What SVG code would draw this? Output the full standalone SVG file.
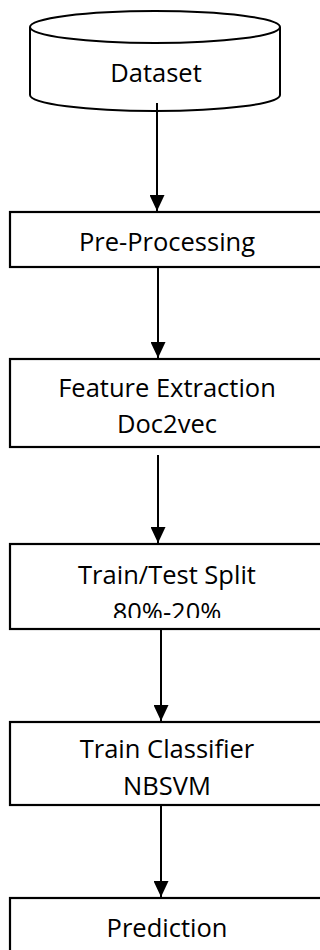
<svg xmlns="http://www.w3.org/2000/svg" width="320" height="950" viewBox="0 0 320 950">
<style>
.box{fill:#fff;stroke:#000;stroke-width:2.2}
.cyl{fill:#fff;stroke:#000;stroke-width:2}
.lbl{font-family:"Open Sans","Noto Sans",sans-serif;font-size:25.5px;fill:#000;text-anchor:middle}
.conn{stroke:#000;stroke-width:2;fill:none}
</style>
<defs>
<marker id="arr" viewBox="0 0 16 15" refX="16" refY="7.5" markerWidth="16" markerHeight="15" markerUnits="userSpaceOnUse" orient="auto">
<path d="M0,0 L16,7.5 L0,15 Z" fill="#000"/>
</marker>
<clipPath id="clipTT"><rect x="0" y="540" width="320" height="78"/></clipPath>
</defs>
<rect width="320" height="950" fill="#fff"/>
<g id="dataset">
<path class="cyl" d="M30,27 L30,95 A125,16 0 0 0 280,95 L280,27"/>
<ellipse class="cyl" cx="155" cy="27" rx="125" ry="16"/>
<text class="lbl" x="156" y="82">Dataset</text>
</g>
<g id="preprocessing">
<rect class="box" x="10" y="212" width="314" height="55"/>
<text class="lbl" x="167" y="251">Pre-Processing</text>
</g>
<g id="feature">
<rect class="box" x="10" y="359" width="314" height="88"/>
<text class="lbl" x="167" y="397">Feature Extraction</text>
<text class="lbl" x="167" y="433">Doc2vec</text>
</g>
<g id="split">
<rect class="box" x="10" y="544" width="314" height="85"/>
<text class="lbl" x="167" y="584">Train/Test Split</text>
<text class="lbl" x="167" y="621" clip-path="url(#clipTT)">80%-20%</text>
</g>
<g id="classifier">
<rect class="box" x="10" y="722" width="314" height="83"/>
<text class="lbl" x="167" y="758">Train Classifier</text>
<text class="lbl" x="167" y="795">NBSVM</text>
</g>
<g id="prediction">
<rect class="box" x="10" y="898" width="314" height="60"/>
<text class="lbl" x="167" y="937">Prediction</text>
</g>
<g id="connectors">
<line class="conn" x1="157" y1="103" x2="157" y2="211" marker-end="url(#arr)"/>
<line class="conn" x1="158" y1="267" x2="158" y2="358" marker-end="url(#arr)"/>
<line class="conn" x1="158" y1="455" x2="158" y2="543" marker-end="url(#arr)"/>
<line class="conn" x1="161" y1="629" x2="161" y2="721" marker-end="url(#arr)"/>
<line class="conn" x1="161" y1="805" x2="161" y2="897" marker-end="url(#arr)"/>
</g>
</svg>
